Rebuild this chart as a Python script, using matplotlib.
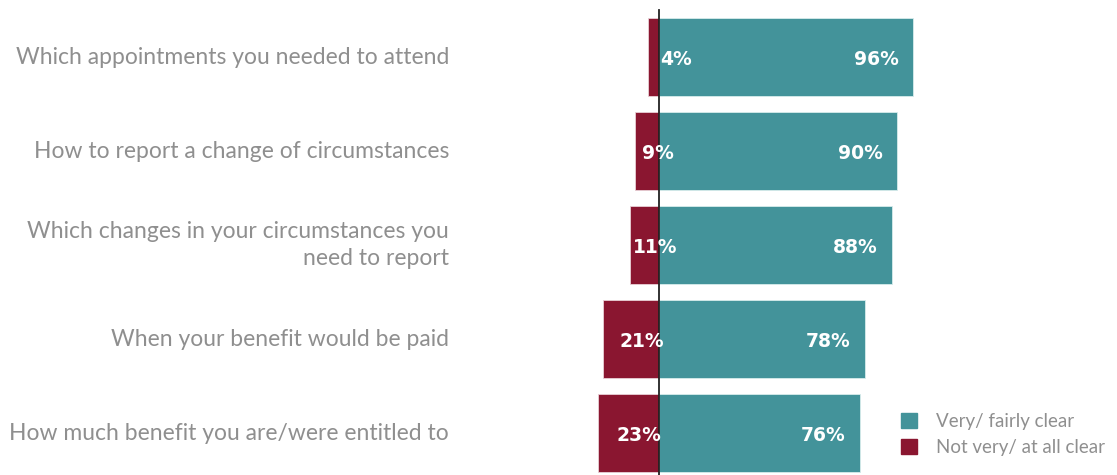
import matplotlib.pyplot as plt
from matplotlib.patches import Patch

categories = [
    "Which appointments you needed to attend",
    "How to report a change of circumstances",
    "Which changes in your circumstances you\nneed to report",
    "When your benefit would be paid",
    "How much benefit you are/were entitled to",
]
clear = [96, 90, 88, 78, 76]
not_clear = [4, 9, 11, 21, 23]

TEAL = "#43939a"
RED = "#8a1630"
GREY = "#8f8f8f"

fig = plt.figure(figsize=(11.17, 4.75), dpi=100)
ax = fig.add_axes([0, 0, 1, 1])

# scale: ~2.646 px per percentage point, zero line at x=659 px
px = 2.646
ax.set_xlim(-659 / px, (1117 - 659) / px)
ax.set_ylim(418 / 94, -57 / 94)
ax.axis("off")

ypos = list(range(len(categories)))
ax.barh(ypos, clear, height=0.82, color=TEAL, edgecolor="#d8ecec", linewidth=0.6)
ax.barh(ypos, [-v for v in not_clear], height=0.82, color=RED, edgecolor="#e8d0d6", linewidth=0.6)
ax.axvline(0, ymin=0, ymax=1 - 10 / 475, color="#222222", linewidth=1.3)

for y, c, n, lab in zip(ypos, clear, not_clear, categories):
    ax.text(c - 5.5, y + 0.03, f"{c}%", ha="right", va="center", color="white",
            fontsize=13.5, fontweight="bold", family="DejaVu Sans")
    if n < 5:
        ax.text(0.5, y + 0.03, f"{n}%", ha="left", va="center", color="white",
                fontsize=13.5, fontweight="bold", family="DejaVu Sans")
    else:
        ax.text(-n / 2 + 4, y + 0.03, f"{n}%", ha="center", va="center", color="white",
                fontsize=13.5, fontweight="bold", family="DejaVu Sans")
    ax.text((449 - 659) / px, y, lab, ha="right", va="center", color=GREY,
            fontsize=16.5, family="Lato", linespacing=1.35)

handles = [Patch(facecolor=TEAL, edgecolor=TEAL), Patch(facecolor=RED, edgecolor=RED)]
leg = ax.legend(handles, ["Very/ fairly clear", "Not very/ at all clear"],
                loc="lower left", bbox_to_anchor=(884 / 1117, 2 / 475),
                frameon=False, handlelength=0.85, handleheight=0.85,
                handletextpad=1.0, labelspacing=0.5,
                prop={"family": "Lato", "size": 13.5})
for t in leg.get_texts():
    t.set_color(GREY)

fig.savefig("out.png", dpi=100)
